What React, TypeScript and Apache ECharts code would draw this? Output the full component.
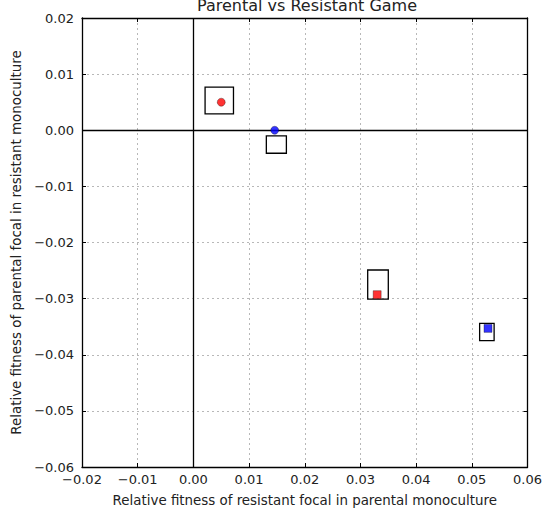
import React, { useEffect, useRef } from "react";
import * as echarts from "echarts";

const TITLE = "Parental vs Resistant Game";
const X_NAME = "Relative fitness of resistant focal in parental monoculture";
const Y_NAME = "Relative fitness of parental focal in resistant monoculture";

const redCircle = [[0.005, 0.005]];
const blueCircle = [[0.0146, 0.0]];
const redSquare = [[0.033, -0.0293]];
const blueSquare = [[0.0529, -0.0353]];
// [xLow, xHigh, yLow, yHigh]
const boxes = [
  [0.0021, 0.0072, 0.0029, 0.0077],
  [0.0131, 0.0167, -0.0041, -0.001],
  [0.0313, 0.035, -0.0301, -0.0249],
  [0.0514, 0.054, -0.0375, -0.0344],
];

const FONT = "DejaVu Sans";
const fmt = (v: number) =>
  Math.abs(v) < 1e-9 ? "0.00" : (v < 0 ? "\u2212" : "") + Math.abs(v).toFixed(2);

export default function App() {
  const ref = useRef<HTMLDivElement>(null);
  useEffect(() => {
    const chart = echarts.init(ref.current!, null, { renderer: "svg" });
    const gridLine = { show: true, lineStyle: { color: "#b8b8b8", type: [2, 3], width: 1 } };
    const axisLine = { show: true, onZero: false, lineStyle: { color: "#000", width: 1.3 } };
    const axisTick = { show: true, inside: true, length: 4, lineStyle: { color: "#000" } };
    const tickStyle = { fontFamily: FONT, fontSize: 13, color: "#222" };
    const nameStyle = { fontFamily: FONT, fontSize: 13.4, color: "#222" };
    chart.setOption({
      animation: false,
      backgroundColor: "#fff",
      grid: { left: 82, right: 13, top: 18, bottom: 47 },
      graphic: [
        {
          type: "text",
          x: 307,
          y: -3,
          style: {
            text: TITLE,
            fontFamily: FONT,
            fontSize: 16,
            fill: "#222",
            textAlign: "center",
            textVerticalAlign: "top",
          },
        },
      ],
      xAxis: [
        {
          type: "value",
          min: -0.02,
          max: 0.06,
          interval: 0.01,
          position: "bottom",
          name: X_NAME,
          nameLocation: "middle",
          nameGap: 27,
          nameTextStyle: nameStyle,
          axisLine,
          axisTick,
          splitLine: gridLine,
          axisLabel: { ...tickStyle, margin: 6, formatter: fmt },
        },
        {
          type: "value",
          min: -0.02,
          max: 0.06,
          interval: 0.01,
          position: "top",
          axisLine,
          axisTick,
          splitLine: { show: false },
          axisLabel: { show: false },
        },
      ],
      yAxis: [
        {
          type: "value",
          min: -0.06,
          max: 0.02,
          interval: 0.01,
          position: "left",
          name: Y_NAME,
          nameLocation: "middle",
          nameGap: 58,
          nameTextStyle: nameStyle,
          axisLine,
          axisTick,
          splitLine: gridLine,
          axisLabel: { ...tickStyle, margin: 8, formatter: fmt },
        },
        {
          type: "value",
          min: -0.06,
          max: 0.02,
          interval: 0.01,
          position: "right",
          axisLine,
          axisTick,
          splitLine: { show: false },
          axisLabel: { show: false },
        },
      ],
      series: [
        {
          type: "custom",
          xAxisIndex: 0,
          yAxisIndex: 0,
          data: boxes,
          encode: { x: [0, 1], y: [2, 3] },
          z: 3,
          silent: true,
          renderItem: (_params: any, api: any) => {
            const p1 = api.coord([api.value(0), api.value(3)]);
            const p2 = api.coord([api.value(1), api.value(2)]);
            return {
              type: "rect",
              shape: { x: p1[0], y: p1[1], width: p2[0] - p1[0], height: p2[1] - p1[1] },
              style: { fill: "none", stroke: "#000", lineWidth: 1.3 },
            };
          },
          markLine: {
            silent: true,
            symbol: "none",
            label: { show: false },
            lineStyle: { color: "#000", type: "solid", width: 1.3 },
            data: [{ xAxis: 0 }, { yAxis: 0 }],
          },
        },
        {
          type: "scatter",
          data: redCircle,
          symbol: "circle",
          symbolSize: 8,
          itemStyle: { color: "#ff0000", borderColor: "#000", borderWidth: 0.4 },
          z: 5,
        },
        {
          type: "scatter",
          data: blueCircle,
          symbol: "circle",
          symbolSize: 8,
          itemStyle: { color: "#0000ff", borderColor: "#000", borderWidth: 0.4 },
          z: 5,
        },
        {
          type: "scatter",
          data: redSquare,
          symbol: "rect",
          symbolSize: 8,
          itemStyle: { color: "#ff0000", borderColor: "#000", borderWidth: 0.4 },
          z: 5,
        },
        {
          type: "scatter",
          data: blueSquare,
          symbol: "rect",
          symbolSize: 8,
          itemStyle: { color: "#0000ff", borderColor: "#000", borderWidth: 0.4 },
          z: 5,
        },
      ],
    });
    return () => chart.dispose();
  }, []);
  return (
    <div
      ref={ref}
      style={{ position: "absolute", left: 0, top: 0, width: 545, height: 514 }}
    />
  );
}
